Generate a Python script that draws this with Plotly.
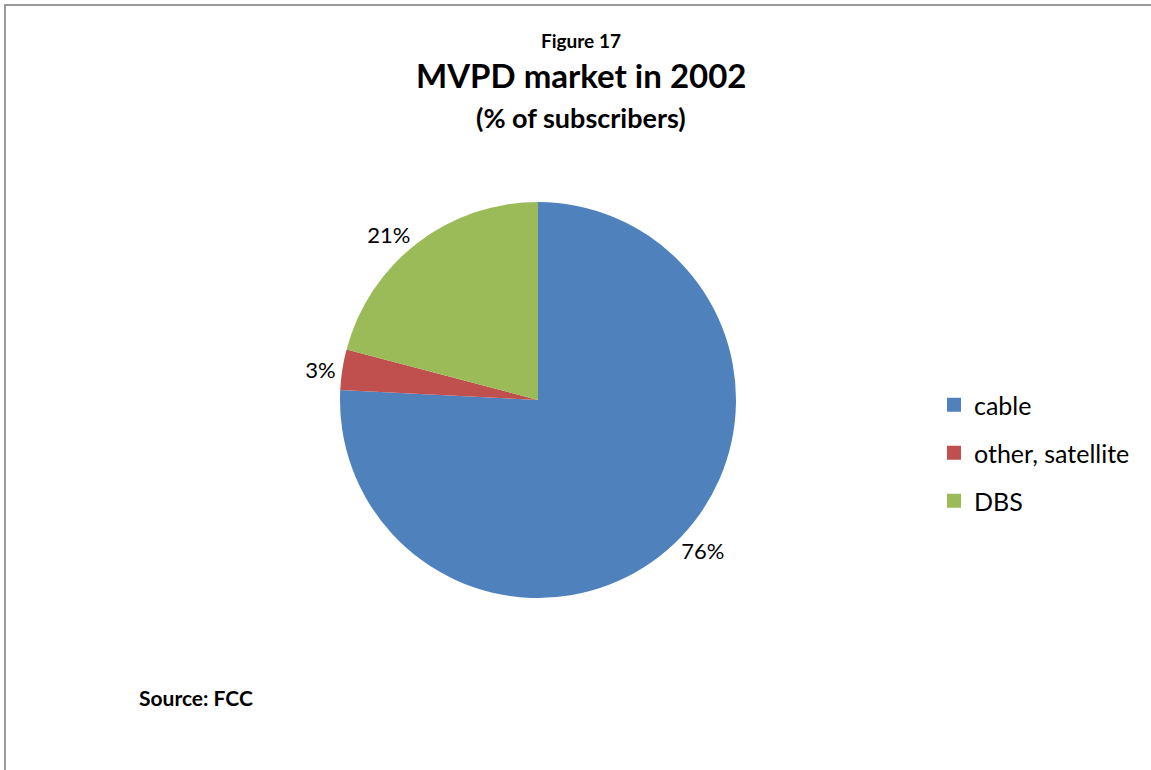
import plotly.graph_objects as go

categories = ["cable", "other, satellite", "DBS"]
shares = [75.8, 3.3, 20.9]
colors = ["#4F81BD", "#C0504D", "#9BBB59"]

W, H = 1151, 770
FONT = "Lato, Carlito, Calibri, sans-serif"

fig = go.Figure()
fig.add_trace(go.Pie(
    labels=categories,
    values=shares,
    sort=False,
    direction="clockwise",
    rotation=0,
    marker=dict(colors=colors, line=dict(width=0)),
    textposition="outside",
    texttemplate="%{percent:.0%}",
    textfont=dict(family=FONT, size=22, color="#000000"),
    domain=dict(x=[340 / W, 736 / W], y=[(H - 598) / H, (H - 202) / H]),
    showlegend=False,
    hoverinfo="label+percent",
))

# legend entries (one group per category so the spacing can be set)
for name, col in zip(categories, colors):
    fig.add_trace(go.Scatter(
        x=[None], y=[None], mode="markers", name=name,
        marker=dict(symbol="square", size=14, color=col),
        legendgroup=name, showlegend=True, hoverinfo="skip",
    ))

fig.update_layout(
    width=W, height=H,
    margin=dict(l=0, r=0, t=0, b=0),
    paper_bgcolor="white",
    plot_bgcolor="white",
    font=dict(family=FONT, color="#000000"),
    xaxis=dict(visible=False),
    yaxis=dict(visible=False),
    legend=dict(
        x=934 / W, y=(H - 382) / H, xanchor="left", yanchor="top",
        font=dict(family=FONT, size=25, color="#000000"),
        bgcolor="rgba(0,0,0,0)",
        tracegroupgap=12.5,
        itemclick=False, itemdoubleclick=False,
    ),
    annotations=[
        dict(text="<b>Figure 17</b>", x=580.5 / W, y=(H - 40) / H, xref="paper", yref="paper",
             xanchor="center", yanchor="middle", showarrow=False, font=dict(family=FONT, size=19)),
        dict(text="<b>MVPD market in 2002</b>", x=580.5 / W, y=(H - 75) / H, xref="paper", yref="paper",
             xanchor="center", yanchor="middle", showarrow=False, font=dict(family=FONT, size=33)),
        dict(text="<b>(% of subscribers)</b>", x=580.5 / W, y=(H - 117) / H, xref="paper", yref="paper",
             xanchor="center", yanchor="middle", showarrow=False, font=dict(family=FONT, size=27)),
        dict(text="<b>Source: FCC</b>", x=137 / W, y=(H - 697) / H, xref="paper", yref="paper",
             xanchor="left", yanchor="middle", showarrow=False, font=dict(family=FONT, size=21)),
    ],
    shapes=[
        dict(type="line", xref="paper", yref="paper", x0=4 / W, x1=1, y0=(H - 5) / H, y1=(H - 5) / H,
             line=dict(color="#9A9A9A", width=2)),
        dict(type="line", xref="paper", yref="paper", x0=5 / W, x1=5 / W, y0=0, y1=(H - 5) / H,
             line=dict(color="#9A9A9A", width=2)),
    ],
)

fig.write_html("out.html", config={"displayModeBar": False},
               post_script="document.body.style.margin='0';")
